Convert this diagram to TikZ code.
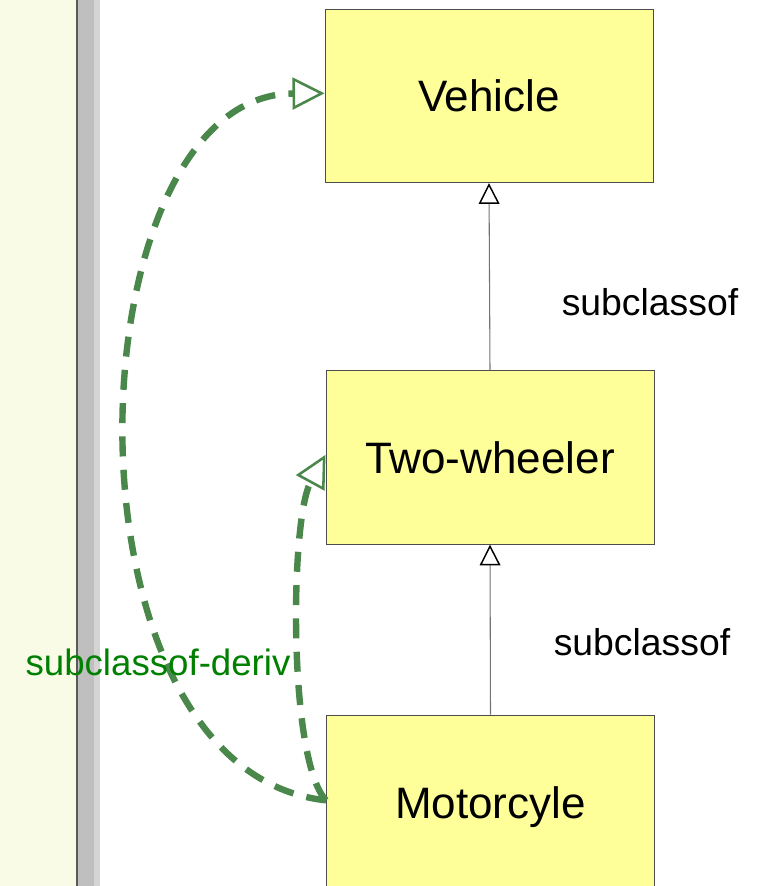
\documentclass[tikz,border=0pt]{standalone}
\usepackage{fontspec}
\setmainfont{Liberation Sans}
\usetikzlibrary{arrows.meta,positioning}
\definecolor{classfill}{RGB}{255,255,153}
\definecolor{panelfill}{RGB}{249,251,230}
\definecolor{derivgreen}{RGB}{74,135,74}
\definecolor{labelgreen}{RGB}{0,128,0}
\tikzset{
    every picture/.style={line width=0.75pt},
    classbox/.style={rectangle,draw=black!70,fill=classfill,line width=0.75pt,
        minimum width=246pt,minimum height=130pt,inner sep=0pt,font=\fontsize{33}{39}\selectfont},
    relname/.style={font=\fontsize{28}{34}\selectfont},
    isa/.style={draw=black!55,line width=0.8pt,
        -{Triangle[open,fill=white,length=15.5pt,width=15.5pt,line width=1.1pt,color=black]}},
    deriv/.style={draw=derivgreen,line width=4.8pt,dash pattern=on 15pt off 10pt,
        -{Triangle[open,length=24pt,width=24pt,line width=1.9pt]}}
}

\begin{document}
\begin{tikzpicture}[x=0.75pt,y=-0.75pt]
        \useasboundingbox (0,0) rectangle (757,886);

        % side panel
        \fill[panelfill] (0,0) rectangle (76,886);
        \fill[black!65] (76,0) rectangle (77.5,886);
        \fill[black!25] (77.5,0) rectangle (94,886);
        \fill[black!17] (94,0) rectangle (100,886);

        % classes
        \node[classbox] (vehicle) at (489,96) {Vehicle};
        \node[classbox] (twowheeler) at (490,457.5) {Two-wheeler};
        \node[classbox,minimum height=138pt] (motorcycle) at (490.5,807) {Motorcyle};

        % declared subclass links
        \draw[isa] (twowheeler.north) -- (vehicle.south);
        \draw[isa] (motorcycle.north) -- (twowheeler.south);
        \node[relname] (rel1) at (650,302) {subclassof};
        \node[relname] (rel2) at (642,642) {subclassof};

        % derived subclass links
        \draw[deriv] ([yshift=5]motorcycle.west) .. controls (50,770) and (70,95) .. ([yshift=2]vehicle.west);
        \draw[deriv] ([yshift=5]motorcycle.west) .. controls (288,760) and (290,520) .. ([yshift=2]twowheeler.west);
        \node[relname,font=\fontsize{27.5}{33}\selectfont,text=labelgreen] (derivlabel) at (158,662) {subclassof-deriv};
    \end{tikzpicture}
\end{document}
